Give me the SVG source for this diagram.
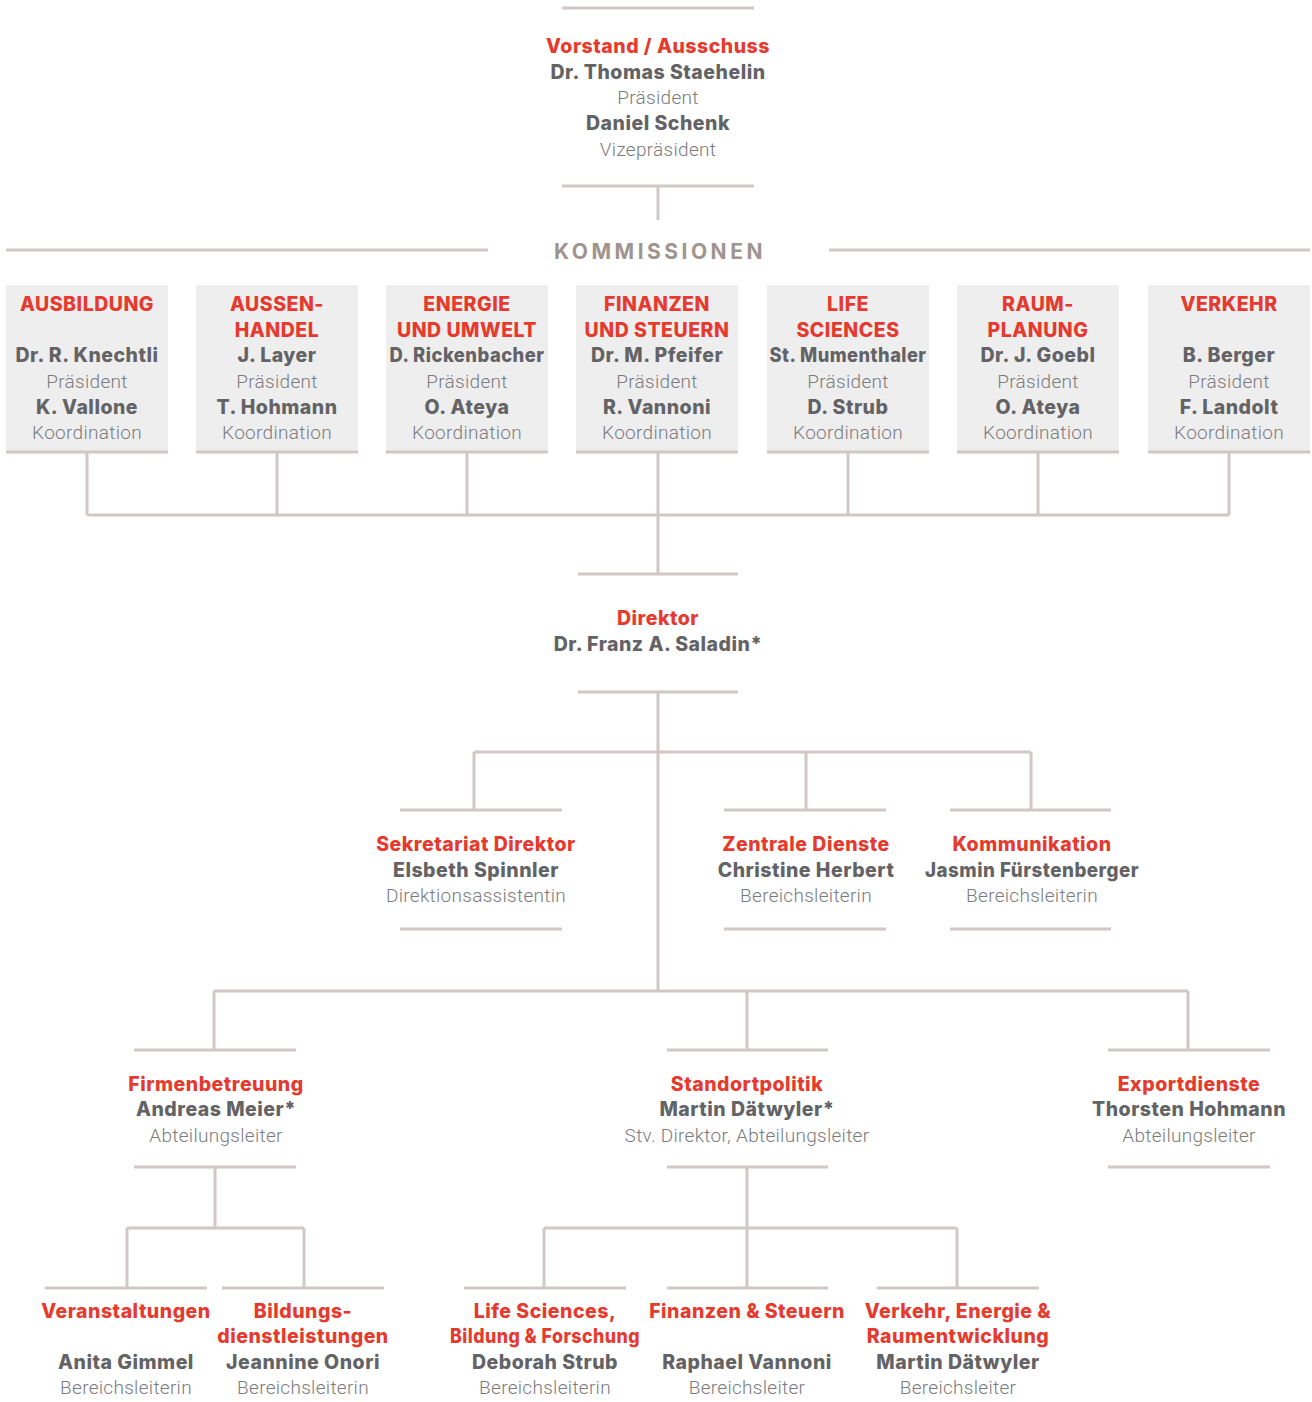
<svg xmlns="http://www.w3.org/2000/svg" width="1312" height="1402" viewBox="0 0 1312 1402">
<style>
text{font-family:Roboto,"Liberation Sans",sans-serif;text-anchor:middle}
.t{font-family:Inter,Roboto,sans-serif;font-size:19.5px;font-weight:800;fill:#e63a2e;letter-spacing:0.5px}
.n{font-family:Inter,Roboto,sans-serif;font-size:19.5px;font-weight:800;fill:#636366;letter-spacing:0.5px}
.r{font-size:19px;font-weight:300;fill:#7b7b7e;letter-spacing:0.3px}
.k{font-family:Inter,Roboto,sans-serif;font-size:21px;font-weight:700;fill:#a0948f;letter-spacing:3.5px}
.ln{stroke:#cfc8c6;stroke-width:3;fill:none}
.c{stroke:#cfc8c6;stroke-width:3;fill:none}
.box{fill:#efeeef}
</style>
<g id="connectors">
<path class="c" d="M658 186V220"/>
<path class="c" d="M6 250H488M829 250H1310"/>
<path class="c" d="M87 452V515M277 452V515M467 452V515M658 452V574M848 452V515M1038 452V515M1229 452V515M87 515H1229"/>
<path class="c" d="M658 692V991M474 752H1031M474 752V810M806 752V810M1031 752V810"/>
<path class="c" d="M214 991H1188M214 991V1050M747 991V1050M1188 991V1050"/>
<path class="c" d="M215 1167V1228M127 1228H304M127 1228V1288M304 1228V1288"/>
<path class="c" d="M747 1167V1288M544 1228H957M544 1228V1288M957 1228V1288"/>
</g>
<g id="vorstand">
<path class="ln" d="M562 8H754M562 186H754"/>
<text class="t" x="658" y="53">Vorstand / Ausschuss</text>
<text class="n" x="658" y="79">Dr. Thomas Staehelin</text>
<text class="r" x="658" y="104">Präsident</text>
<text class="n" x="658" y="130">Daniel Schenk</text>
<text class="r" x="658" y="156">Vizepräsident</text>
</g>
<g id="kommissionen">
<text class="k" x="660" y="259">KOMMISSIONEN</text>
</g>
<g id="k-ausbildung">
<rect class="box" x="6" y="285" width="162" height="167"/><path class="ln" d="M6 452H168"/>
<text class="t" x="87" y="311">AUSBILDUNG</text>
<text class="n" x="87" y="362">Dr. R. Knechtli</text>
<text class="r" x="87" y="388">Präsident</text>
<text class="n" x="87" y="414">K. Vallone</text>
<text class="r" x="87" y="439">Koordination</text>
</g>
<g id="k-aussenhandel">
<rect class="box" x="196" y="285" width="162" height="167"/><path class="ln" d="M196 452H358"/>
<text class="t" x="277" y="311">AUSSEN-</text>
<text class="t" x="277" y="337">HANDEL</text>
<text class="n" x="277" y="362">J. Layer</text>
<text class="r" x="277" y="388">Präsident</text>
<text class="n" x="277" y="414">T. Hohmann</text>
<text class="r" x="277" y="439">Koordination</text>
</g>
<g id="k-energie">
<rect class="box" x="386" y="285" width="162" height="167"/><path class="ln" d="M386 452H548"/>
<text class="t" x="467" y="311">ENERGIE</text>
<text class="t" x="467" y="337">UND UMWELT</text>
<text class="n" x="467" y="362" textLength="155" lengthAdjust="spacingAndGlyphs">D. Rickenbacher</text>
<text class="r" x="467" y="388">Präsident</text>
<text class="n" x="467" y="414">O. Ateya</text>
<text class="r" x="467" y="439">Koordination</text>
</g>
<g id="k-finanzen">
<rect class="box" x="576" y="285" width="162" height="167"/><path class="ln" d="M576 452H738"/>
<text class="t" x="657" y="311">FINANZEN</text>
<text class="t" x="657" y="337">UND STEUERN</text>
<text class="n" x="657" y="362">Dr. M. Pfeifer</text>
<text class="r" x="657" y="388">Präsident</text>
<text class="n" x="657" y="414">R. Vannoni</text>
<text class="r" x="657" y="439">Koordination</text>
</g>
<g id="k-life">
<rect class="box" x="767" y="285" width="162" height="167"/><path class="ln" d="M767 452H929"/>
<text class="t" x="848" y="311">LIFE</text>
<text class="t" x="848" y="337">SCIENCES</text>
<text class="n" x="848" y="362" textLength="157" lengthAdjust="spacingAndGlyphs">St. Mumenthaler</text>
<text class="r" x="848" y="388">Präsident</text>
<text class="n" x="848" y="414">D. Strub</text>
<text class="r" x="848" y="439">Koordination</text>
</g>
<g id="k-raumplanung">
<rect class="box" x="957" y="285" width="162" height="167"/><path class="ln" d="M957 452H1119"/>
<text class="t" x="1038" y="311">RAUM-</text>
<text class="t" x="1038" y="337">PLANUNG</text>
<text class="n" x="1038" y="362">Dr. J. Goebl</text>
<text class="r" x="1038" y="388">Präsident</text>
<text class="n" x="1038" y="414">O. Ateya</text>
<text class="r" x="1038" y="439">Koordination</text>
</g>
<g id="k-verkehr">
<rect class="box" x="1148" y="285" width="162" height="167"/><path class="ln" d="M1148 452H1310"/>
<text class="t" x="1229" y="311">VERKEHR</text>
<text class="n" x="1229" y="362">B. Berger</text>
<text class="r" x="1229" y="388">Präsident</text>
<text class="n" x="1229" y="414">F. Landolt</text>
<text class="r" x="1229" y="439">Koordination</text>
</g>
<g id="direktor">
<path class="ln" d="M578 574H738M578 692H738"/>
<text class="t" x="658" y="625">Direktor</text>
<text class="n" x="658" y="651">Dr. Franz A. Saladin*</text>
</g>
<g id="sekretariat">
<path class="ln" d="M400 810H562M400 929H562"/>
<text class="t" x="476" y="851">Sekretariat Direktor</text>
<text class="n" x="476" y="877">Elsbeth Spinnler</text>
<text class="r" x="476" y="902">Direktionsassistentin</text>
</g>
<g id="zentrale-dienste">
<path class="ln" d="M724 810H886M724 929H886"/>
<text class="t" x="806" y="851">Zentrale Dienste</text>
<text class="n" x="806" y="877">Christine Herbert</text>
<text class="r" x="806" y="902">Bereichsleiterin</text>
</g>
<g id="kommunikation">
<path class="ln" d="M950 810H1111M950 929H1111"/>
<text class="t" x="1032" y="851">Kommunikation</text>
<text class="n" x="1032" y="877" textLength="214" lengthAdjust="spacingAndGlyphs">Jasmin Fürstenberger</text>
<text class="r" x="1032" y="902">Bereichsleiterin</text>
</g>
<g id="firmenbetreuung">
<path class="ln" d="M134 1050H296M134 1167H296"/>
<text class="t" x="216" y="1091">Firmenbetreuung</text>
<text class="n" x="216" y="1116">Andreas Meier*</text>
<text class="r" x="216" y="1142">Abteilungsleiter</text>
</g>
<g id="standortpolitik">
<path class="ln" d="M667 1050H828M667 1167H828"/>
<text class="t" x="747" y="1091">Standortpolitik</text>
<text class="n" x="747" y="1116">Martin Dätwyler*</text>
<text class="r" x="747" y="1142">Stv. Direktor, Abteilungsleiter</text>
</g>
<g id="exportdienste">
<path class="ln" d="M1108 1050H1270M1108 1167H1270"/>
<text class="t" x="1189" y="1091">Exportdienste</text>
<text class="n" x="1189" y="1116">Thorsten Hohmann</text>
<text class="r" x="1189" y="1142">Abteilungsleiter</text>
</g>
<g id="veranstaltungen">
<path class="ln" d="M45 1288H207"/>
<text class="t" x="126" y="1318">Veranstaltungen</text>
<text class="n" x="126" y="1369">Anita Gimmel</text>
<text class="r" x="126" y="1394">Bereichsleiterin</text>
</g>
<g id="bildungsdienstleistungen">
<path class="ln" d="M222 1288H384"/>
<text class="t" x="303" y="1318">Bildungs-</text>
<text class="t" x="303" y="1343">dienstleistungen</text>
<text class="n" x="303" y="1369">Jeannine Onori</text>
<text class="r" x="303" y="1394">Bereichsleiterin</text>
</g>
<g id="life-sciences">
<path class="ln" d="M464 1288H626"/>
<text class="t" x="545" y="1318">Life Sciences,</text>
<text class="t" x="545" y="1343" textLength="190" lengthAdjust="spacingAndGlyphs">Bildung &amp; Forschung</text>
<text class="n" x="545" y="1369">Deborah Strub</text>
<text class="r" x="545" y="1394">Bereichsleiterin</text>
</g>
<g id="finanzen-steuern">
<path class="ln" d="M667 1288H828"/>
<text class="t" x="747" y="1318">Finanzen &amp; Steuern</text>
<text class="n" x="747" y="1369">Raphael Vannoni</text>
<text class="r" x="747" y="1394">Bereichsleiter</text>
</g>
<g id="verkehr-energie">
<path class="ln" d="M877 1288H1039"/>
<text class="t" x="958" y="1318">Verkehr, Energie &amp;</text>
<text class="t" x="958" y="1343">Raumentwicklung</text>
<text class="n" x="958" y="1369">Martin Dätwyler</text>
<text class="r" x="958" y="1394">Bereichsleiter</text>
</g>
</svg>
